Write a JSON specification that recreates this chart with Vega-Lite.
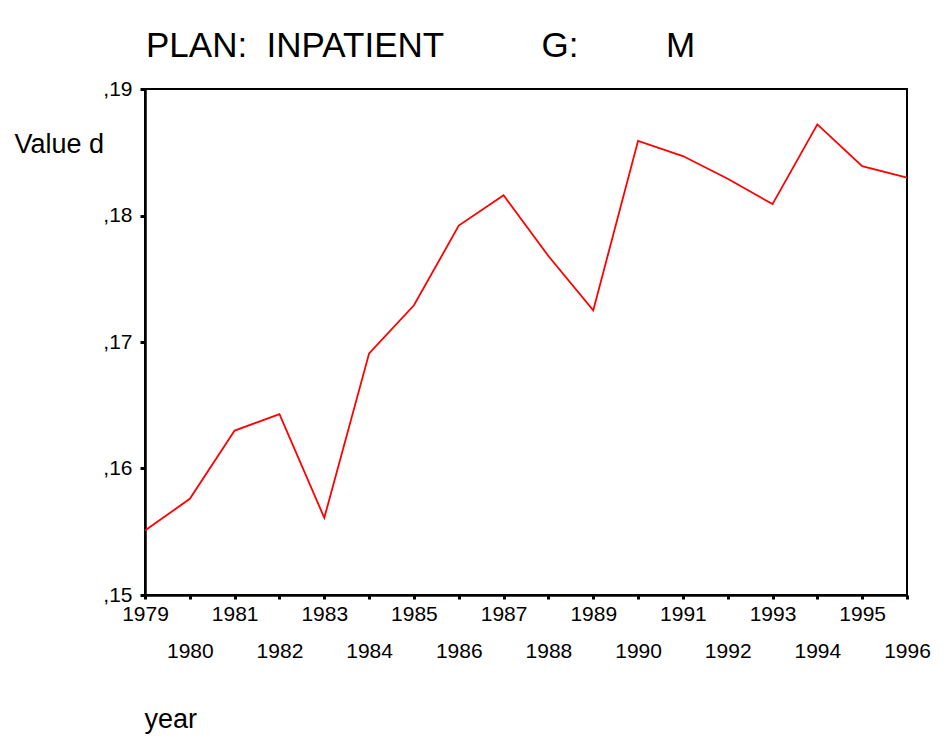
{
  "$schema": "https://vega.github.io/schema/vega-lite/v6.json",
  "width": 762,
  "height": 506,
  "autosize": {"type": "none"},
  "padding": {"left": 145, "top": 89, "right": 42, "bottom": 158},
  "background": "white",
  "config": {
    "font": "Liberation Sans",
    "view": {"stroke": "black", "strokeWidth": 2}
  },
  "title": {
    "text": "PLAN:\u00a0\u00a0INPATIENT\u00a0\u00a0\u00a0\u00a0\u00a0\u00a0\u00a0\u00a0\u00a0\u00a0G:\u00a0\u00a0\u00a0\u00a0\u00a0\u00a0\u00a0\u00a0\u00a0M",
    "anchor": "start",
    "frame": "group",
    "baseline": "alphabetic",
    "offset": 29,
    "dy": 43,
    "dx": 1,
    "fontSize": 35,
    "fontWeight": "normal",
    "color": "black",
    "font": "Liberation Sans"
  },
  "data": {
    "values": [
      {"year": 1979, "value": 0.1551},
      {"year": 1980, "value": 0.1576},
      {"year": 1981, "value": 0.1630},
      {"year": 1982, "value": 0.1643},
      {"year": 1983, "value": 0.1561},
      {"year": 1984, "value": 0.1691},
      {"year": 1985, "value": 0.1729},
      {"year": 1986, "value": 0.1792},
      {"year": 1987, "value": 0.1816},
      {"year": 1988, "value": 0.1768},
      {"year": 1989, "value": 0.1725},
      {"year": 1990, "value": 0.1859},
      {"year": 1991, "value": 0.1847},
      {"year": 1992, "value": 0.1829},
      {"year": 1993, "value": 0.1809},
      {"year": 1994, "value": 0.1872},
      {"year": 1995, "value": 0.1839},
      {"year": 1996, "value": 0.1830}
    ]
  },
  "mark": {"type": "line", "color": "#ff0000", "strokeWidth": 1.8},
  "encoding": {
    "x": {
      "field": "year",
      "type": "quantitative",
      "scale": {"domain": [1979, 1996], "nice": false, "zero": false},
      "axis": {
        "values": [1979,1980,1981,1982,1983,1984,1985,1986,1987,1988,1989,1990,1991,1992,1993,1994,1995,1996],
        "format": "d",
        "grid": false,
        "domainColor": "black",
        "domainWidth": 2.5,
        "tickColor": "black",
        "tickSize": 4,
        "tickWidth": 3,
        "labelFont": "Liberation Sans",
        "labelFontSize": 21,
        "labelColor": "black",
        "labelAlign": "center",
        "labelBaseline": "top",
        "labelOverlap": false,
        "labelFlush": false,
        "labelBound": false,
        "labelPadding": {"condition": {"test": "datum.value % 2 == 0", "value": 41}, "value": 4},
        "title": "year",
        "titleFont": "Liberation Sans",
        "titleFontSize": 27,
        "titleFontWeight": "normal",
        "titleColor": "black",
        "titleAnchor": "start",
        "titleAlign": "left",
        "titleBaseline": "alphabetic",
        "titleX": -1,
        "titleY": 132
      }
    },
    "y": {
      "field": "value",
      "type": "quantitative",
      "scale": {"domain": [0.15, 0.19], "nice": false, "zero": false},
      "axis": {
        "values": [0.15, 0.16, 0.17, 0.18, 0.19],
        "labelExpr": "replace(format(datum.value, '.2f'), '0.', ',')",
        "grid": false,
        "domainColor": "black",
        "domainWidth": 2.5,
        "tickColor": "black",
        "tickSize": 5,
        "tickWidth": 3,
        "labelFont": "Liberation Sans",
        "labelFontSize": 21,
        "labelColor": "black",
        "labelPadding": 8,
        "labelOverlap": false,
        "labelFlush": false,
        "labelBound": false,
        "title": "Value d",
        "titleFont": "Liberation Sans",
        "titleFontSize": 27,
        "titleFontWeight": "normal",
        "titleColor": "black",
        "titleAngle": 0,
        "titleAlign": "left",
        "titleBaseline": "alphabetic",
        "titleX": -131,
        "titleY": 63
      }
    }
  }
}
